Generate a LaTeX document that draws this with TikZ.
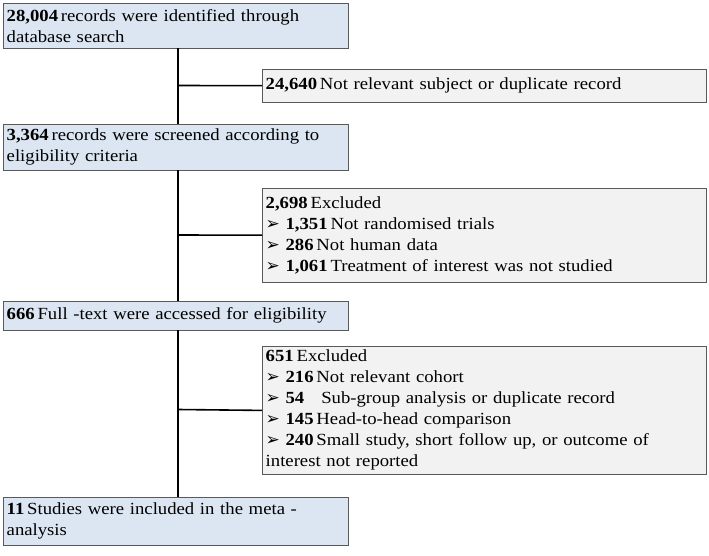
\documentclass[tikz,border=0pt]{standalone}
\usepackage{fontspec}
\setmainfont{Liberation Serif}[FakeStretch=1.1]
\newfontfamily\arrowfont{DejaVu Sans}
\usetikzlibrary{positioning}
\definecolor{mainfill}{HTML}{DCE6F2}
\definecolor{sidefill}{HTML}{F2F2F2}
\newcommand{\pt}{{\arrowfont ➢}\ }
\begin{document}
\begin{tikzpicture}[
    x=1pt, y=-1pt,
    font=\fontsize{17}{21}\selectfont,
    mainbox/.style={rectangle, draw=gray!70!black, fill=mainfill, anchor=north west, minimum width=345, text width=338, align=left, inner xsep=3.5, inner ysep=4},
    sidebox/.style={rectangle, draw=gray!70!black, fill=sidefill, anchor=north west, minimum width=444, text width=437, align=left, inner xsep=3.5, inner ysep=4},
    trunk/.style={line width=1.6pt, black}
]
    \useasboundingbox (0,0) rectangle (709,556);
    \node[mainbox, minimum height=45] (ident) at (3,3) {\textbf{28,004}\,records were identified through\\database search};
    \node[sidebox, minimum height=33] (notrel) at (262,69) {\textbf{24,640}\,Not relevant subject or duplicate record};
    \node[mainbox, minimum height=46] (screen) at (3,124) {\textbf{3,364}\,records were screened according to\\eligibility criteria};
    \node[sidebox, minimum height=94] (excla) at (262,188) {\textbf{2,698}\,Excluded\\
        \pt\textbf{1,351}\,Not randomised trials\\
        \pt\textbf{286}\,Not human data\\
        \pt\textbf{1,061}\,Treatment of interest was not studied};
    \node[mainbox, minimum height=29] (full) at (3,301) {\textbf{666}\,Full -text were accessed for eligibility};
    \node[sidebox, minimum height=127] (exclb) at (262,346) {\textbf{651}\,Excluded\\
        \pt\textbf{216}\,Not relevant cohort\\
        \pt\textbf{54}\quad Sub-group analysis or duplicate record\\
        \pt\textbf{145}\,Head-to-head comparison\\
        \pt\textbf{240}\,Small study, short follow up, or outcome of\\
        interest not reported};
    \node[mainbox, minimum height=48] (incl) at (3,497) {\textbf{11}\,Studies were included in the meta -\\analysis};

    % trunk
    \draw[trunk] (178,48) -- (screen.north -| 178,0);
    \draw[trunk] (178,170) -- (full.north -| 178,0);
    \draw[trunk] (178,330) -- (incl.north -| 178,0);
    % branches
    \coordinate (ba) at (178,85.5);
    \coordinate (bb) at (178,235);
    \coordinate (bc) at (178,409.5);
    \draw[trunk] (ba) -- (notrel.west);
    \draw[trunk] (bb) -- (excla.west);
    \draw[trunk] (bc) -- (exclb.west);
\end{tikzpicture}
\end{document}
